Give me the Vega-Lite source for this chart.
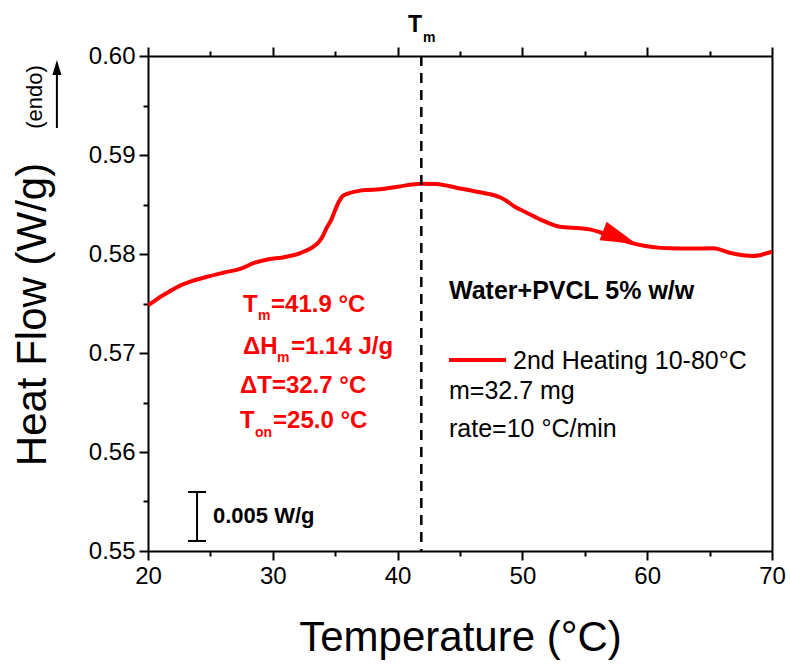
{
  "$schema": "https://vega.github.io/schema/vega-lite/v6.json",
  "width": 624,
  "height": 495,
  "autosize": {"type": "none"},
  "padding": {"left": 148, "top": 56, "right": 18, "bottom": 114},
  "background": "white",
  "config": {"view": {"stroke": null}, "font": "Liberation Sans"},
  "datasets": {
    "curve": [
      {"T": 20.0, "v": 0.5748},
      {"T": 20.5, "v": 0.57525},
      {"T": 21.1, "v": 0.57576},
      {"T": 21.8, "v": 0.57628},
      {"T": 22.4, "v": 0.5767},
      {"T": 23.5, "v": 0.57725},
      {"T": 24.6, "v": 0.57765},
      {"T": 26.0, "v": 0.5781},
      {"T": 27.5, "v": 0.57855},
      {"T": 28.5, "v": 0.5791},
      {"T": 29.4, "v": 0.5794},
      {"T": 31.0, "v": 0.5797},
      {"T": 32.0, "v": 0.58},
      {"T": 32.6, "v": 0.5803},
      {"T": 33.2, "v": 0.5807},
      {"T": 33.7, "v": 0.58124},
      {"T": 34.0, "v": 0.5818},
      {"T": 34.3, "v": 0.5826},
      {"T": 34.7, "v": 0.5835},
      {"T": 35.0, "v": 0.58444},
      {"T": 35.3, "v": 0.5853},
      {"T": 35.6, "v": 0.58586},
      {"T": 36.0, "v": 0.5861},
      {"T": 36.6, "v": 0.5863},
      {"T": 37.4, "v": 0.58646},
      {"T": 38.6, "v": 0.58653},
      {"T": 40.0, "v": 0.5868},
      {"T": 41.9, "v": 0.5871},
      {"T": 43.1, "v": 0.58707},
      {"T": 44.7, "v": 0.5867},
      {"T": 46.6, "v": 0.58623},
      {"T": 48.2, "v": 0.58573},
      {"T": 48.8, "v": 0.5853},
      {"T": 49.3, "v": 0.58485},
      {"T": 50.3, "v": 0.5842},
      {"T": 51.4, "v": 0.5835},
      {"T": 53.0, "v": 0.58276},
      {"T": 54.6, "v": 0.5826},
      {"T": 55.4, "v": 0.58249},
      {"T": 56.2, "v": 0.5822},
      {"T": 57.5, "v": 0.5816},
      {"T": 59.1, "v": 0.581},
      {"T": 61.8, "v": 0.58058},
      {"T": 63.5, "v": 0.58055},
      {"T": 65.3, "v": 0.58058},
      {"T": 66.6, "v": 0.58013},
      {"T": 68.5, "v": 0.5798},
      {"T": 69.3, "v": 0.57997},
      {"T": 70.0, "v": 0.58024}
    ],
    "tm": [{"T": 41.9}],
    "dirArrow": [{"T": 57.81, "v": 0.58166}],
    "endoLine": [{"T": 12.7, "v1": 0.59273, "v2": 0.59859}],
    "endoHead": [{"T": 12.7, "v": 0.59884}],
    "endoText": [{"T": 10.95, "v": 0.59586, "text": "(endo)"}],
    "tmTopMain": [{"T": 40.83, "v": 0.60242, "text": "T"}],
    "tmTopSub": [{"T": 42.03, "v": 0.60141, "text": "m"}],
    "redMain": [
      {"T": 27.61, "v": 0.57414, "text": "T"},
      {"T": 29.86, "v": 0.57414, "text": "=41.9 °C"},
      {"T": 27.61, "v": 0.5699, "text": "ΔH"},
      {"T": 31.46, "v": 0.5699, "text": "=1.14 J/g"},
      {"T": 27.37, "v": 0.56596, "text": "ΔT=32.7 °C"},
      {"T": 27.37, "v": 0.56242, "text": "T"},
      {"T": 30.02, "v": 0.56242, "text": "=25.0 °C"}
    ],
    "redSub": [
      {"T": 28.81, "v": 0.57333, "text": "m"},
      {"T": 30.34, "v": 0.56909, "text": "m"},
      {"T": 28.57, "v": 0.56152, "text": "on"}
    ],
    "blackBold": [{"T": 44.12, "v": 0.57545, "text": "Water+PVCL 5% w/w"}],
    "blackPlain": [
      {"T": 49.25, "v": 0.56838, "text": "2nd Heating 10-80°C"},
      {"T": 44.12, "v": 0.56535, "text": "m=32.7 mg"},
      {"T": 44.12, "v": 0.56152, "text": "rate=10 °C/min"}
    ],
    "legendLine": [{"T1": 44.12, "T2": 48.69, "v": 0.56929}],
    "scaleBar": [
      {"T1": 23.93, "T2": 23.93, "v1": 0.55101, "v2": 0.55596},
      {"T1": 23.21, "T2": 24.65, "v1": 0.55101, "v2": 0.55101},
      {"T1": 23.21, "T2": 24.65, "v1": 0.55596, "v2": 0.55596}
    ],
    "scaleText": [{"T": 25.21, "v": 0.55354, "text": "0.005 W/g"}]
  },
  "layer": [
    {
      "data": {"name": "curve"},
      "mark": {"type": "line", "color": "#ff0000", "strokeWidth": 4, "clip": false, "interpolate": "monotone"},
      "encoding": {
        "x": {
          "field": "T", "type": "quantitative",
          "scale": {"domain": [20, 70], "nice": false, "zero": false},
          "axis": {
            "orient": "bottom",
            "values": [20, 25, 30, 35, 40, 45, 50, 55, 60, 65, 70],
            "grid": false,
            "domainColor": "black", "domainWidth": 2,
            "tickColor": "black", "tickWidth": 2,
            "tickSize": {"condition": {"test": "datum.value % 10 === 0", "value": 9}, "value": 5},
            "labelExpr": "datum.value % 10 === 0 ? datum.label : ''",
            "labelFont": "Liberation Sans", "labelFontSize": 24, "labelColor": "black",
            "labelPadding": 4, "labelFlush": false, "labelOverlap": false, "labelBound": false,
            "title": "Temperature (°C)",
            "titleFont": "Liberation Sans", "titleFontSize": 42, "titleFontWeight": "normal", "titleColor": "black",
            "titleX": 312, "titleY": 86, "titleBaseline": "middle", "titleAlign": "center"
          }
        },
        "y": {
          "field": "v", "type": "quantitative",
          "scale": {"domain": [0.55, 0.6], "nice": false, "zero": false},
          "axis": {
            "orient": "left",
            "values": [0.55, 0.555, 0.56, 0.565, 0.57, 0.575, 0.58, 0.585, 0.59, 0.595, 0.6],
            "format": ".2f",
            "grid": false,
            "domainColor": "black", "domainWidth": 2,
            "tickColor": "black", "tickWidth": 2,
            "tickSize": {"condition": {"test": "abs(datum.value*100 - round(datum.value*100)) < 0.01", "value": 9}, "value": 5},
            "labelExpr": "abs(datum.value*100 - round(datum.value*100)) < 0.01 ? datum.label : ''",
            "labelFont": "Liberation Sans", "labelFontSize": 24, "labelColor": "black",
            "labelPadding": 4, "labelFlush": false, "labelOverlap": false, "labelBound": false,
            "title": "Heat Flow (W/g)",
            "titleFont": "Liberation Sans", "titleFontSize": 42, "titleFontWeight": "normal", "titleColor": "black",
            "titleX": -116, "titleY": 258, "titleAngle": -90, "titleBaseline": "middle", "titleAlign": "center"
          }
        }
      }
    },
    {
      "data": {"name": "curve"},
      "mark": {"type": "point", "opacity": 0},
      "encoding": {
        "x": {
          "field": "T", "type": "quantitative",
          "axis": {
            "orient": "top",
            "values": [20, 25, 30, 35, 40, 45, 50, 55, 60, 65, 70],
            "grid": false, "labels": false, "title": null,
            "domainColor": "black", "domainWidth": 2,
            "tickColor": "black", "tickWidth": 2,
            "tickSize": {"condition": {"test": "datum.value % 10 === 0", "value": 9}, "value": 5}
          }
        },
        "y": {
          "field": "v", "type": "quantitative",
          "axis": {
            "orient": "right", "grid": false, "labels": false, "ticks": false, "title": null,
            "domainColor": "black", "domainWidth": 2
          }
        }
      }
    },
    {
      "data": {"name": "tm"},
      "mark": {"type": "rule", "color": "black", "strokeWidth": 2.5, "strokeDash": [10, 7]},
      "encoding": {"x": {"field": "T", "type": "quantitative", "axis": null}}
    },
    {
      "data": {"name": "dirArrow"},
      "mark": {"type": "point", "shape": "M-1,-0.55L1,0L-1,0.55Z", "filled": true, "color": "#ff0000", "opacity": 1, "size": 1296, "angle": 21, "clip": false},
      "encoding": {
        "x": {"field": "T", "type": "quantitative", "axis": null},
        "y": {"field": "v", "type": "quantitative", "axis": null}
      }
    },
    {
      "data": {"name": "endoLine"},
      "mark": {"type": "rule", "color": "black", "strokeWidth": 2, "clip": false},
      "encoding": {
        "x": {"field": "T", "type": "quantitative", "axis": null},
        "y": {"field": "v1", "type": "quantitative", "axis": null},
        "y2": {"field": "v2"}
      }
    },
    {
      "data": {"name": "endoHead"},
      "mark": {"type": "point", "shape": "M0,-1L0.6,1L-0.6,1Z", "filled": true, "color": "black", "opacity": 1, "size": 225, "clip": false},
      "encoding": {
        "x": {"field": "T", "type": "quantitative", "axis": null},
        "y": {"field": "v", "type": "quantitative", "axis": null}
      }
    },
    {
      "data": {"name": "endoText"},
      "mark": {"type": "text", "font": "Liberation Sans", "fontSize": 22, "color": "black", "angle": -90, "align": "center", "baseline": "middle", "clip": false},
      "encoding": {
        "x": {"field": "T", "type": "quantitative", "axis": null},
        "y": {"field": "v", "type": "quantitative", "axis": null},
        "text": {"field": "text"}
      }
    },
    {
      "data": {"name": "tmTopMain"},
      "mark": {"type": "text", "font": "Liberation Sans", "fontSize": 23, "fontWeight": "bold", "color": "black", "align": "left", "baseline": "alphabetic", "clip": false},
      "encoding": {
        "x": {"field": "T", "type": "quantitative", "axis": null},
        "y": {"field": "v", "type": "quantitative", "axis": null},
        "text": {"field": "text"}
      }
    },
    {
      "data": {"name": "tmTopSub"},
      "mark": {"type": "text", "font": "Liberation Sans", "fontSize": 14, "fontWeight": "bold", "color": "black", "align": "left", "baseline": "alphabetic", "clip": false},
      "encoding": {
        "x": {"field": "T", "type": "quantitative", "axis": null},
        "y": {"field": "v", "type": "quantitative", "axis": null},
        "text": {"field": "text"}
      }
    },
    {
      "data": {"name": "redMain"},
      "mark": {"type": "text", "font": "Liberation Sans", "fontSize": 24, "fontWeight": "bold", "color": "#ff0000", "align": "left", "baseline": "alphabetic", "clip": false},
      "encoding": {
        "x": {"field": "T", "type": "quantitative", "axis": null},
        "y": {"field": "v", "type": "quantitative", "axis": null},
        "text": {"field": "text"}
      }
    },
    {
      "data": {"name": "redSub"},
      "mark": {"type": "text", "font": "Liberation Sans", "fontSize": 14, "fontWeight": "bold", "color": "#ff0000", "align": "left", "baseline": "alphabetic", "clip": false},
      "encoding": {
        "x": {"field": "T", "type": "quantitative", "axis": null},
        "y": {"field": "v", "type": "quantitative", "axis": null},
        "text": {"field": "text"}
      }
    },
    {
      "data": {"name": "blackBold"},
      "mark": {"type": "text", "font": "Liberation Sans", "fontSize": 25, "fontWeight": "bold", "color": "black", "align": "left", "baseline": "alphabetic", "clip": false},
      "encoding": {
        "x": {"field": "T", "type": "quantitative", "axis": null},
        "y": {"field": "v", "type": "quantitative", "axis": null},
        "text": {"field": "text"}
      }
    },
    {
      "data": {"name": "blackPlain"},
      "mark": {"type": "text", "font": "Liberation Sans", "fontSize": 25, "color": "black", "align": "left", "baseline": "alphabetic", "clip": false},
      "encoding": {
        "x": {"field": "T", "type": "quantitative", "axis": null},
        "y": {"field": "v", "type": "quantitative", "axis": null},
        "text": {"field": "text"}
      }
    },
    {
      "data": {"name": "legendLine"},
      "mark": {"type": "rule", "color": "#ff0000", "strokeWidth": 4, "clip": false},
      "encoding": {
        "x": {"field": "T1", "type": "quantitative", "axis": null},
        "x2": {"field": "T2"},
        "y": {"field": "v", "type": "quantitative", "axis": null}
      }
    },
    {
      "data": {"name": "scaleBar"},
      "mark": {"type": "rule", "color": "black", "strokeWidth": 2, "clip": false},
      "encoding": {
        "x": {"field": "T1", "type": "quantitative", "axis": null},
        "x2": {"field": "T2"},
        "y": {"field": "v1", "type": "quantitative", "axis": null},
        "y2": {"field": "v2"}
      }
    },
    {
      "data": {"name": "scaleText"},
      "mark": {"type": "text", "font": "Liberation Sans", "fontSize": 22, "fontWeight": "bold", "color": "black", "align": "left", "baseline": "middle", "clip": false},
      "encoding": {
        "x": {"field": "T", "type": "quantitative", "axis": null},
        "y": {"field": "v", "type": "quantitative", "axis": null},
        "text": {"field": "text"}
      }
    }
  ],
  "resolve": {"axis": {"x": "independent", "y": "independent"}}
}
